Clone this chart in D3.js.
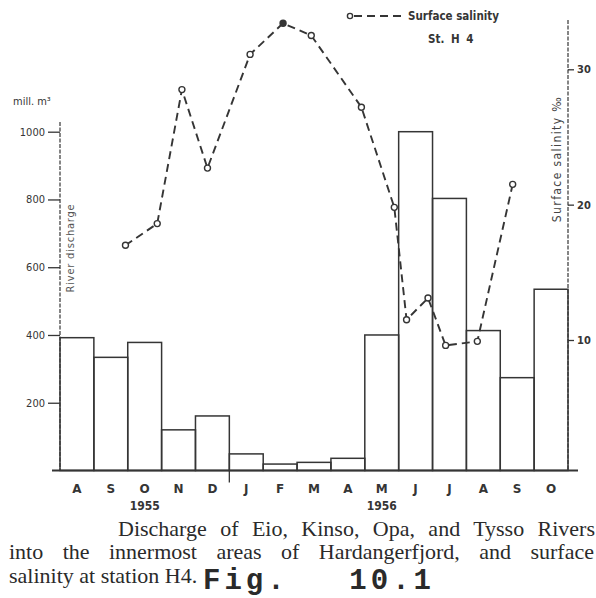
<!DOCTYPE html>
<html>
<head>
<meta charset="utf-8">
<script src="https://cdn.jsdelivr.net/npm/d3@7"></script>
<style>
  html, body { margin: 0; padding: 0; background: #fff; }
  svg { display: block; }
</style>
</head>
<body>
<svg id="chart" width="596" height="598"></svg>
<script>
// Monthly river discharge (mill. m³), Aug 1955 – Oct 1956
const months = ["A", "S", "O", "N", "D", "J", "F", "M", "A", "M", "J", "J", "A", "S", "O"];
const discharge = [392, 334, 378, 120, 161, 49, 19, 24, 36, 400, 1000, 803, 413, 274, 535];

// Surface salinity (‰) at St. H4, by sampling date
const salDates = ["1955-09-29", "1955-10-28", "1955-11-19", "1955-12-12", "1956-01-20",
                  "1956-02-18", "1956-03-14", "1956-04-28", "1956-05-28", "1956-06-08",
                  "1956-06-27", "1956-07-13", "1956-08-11", "1956-09-12"];
const salValues = [17.0, 18.6, 28.5, 22.7, 31.1, 33.4, 32.5, 27.2, 19.8, 11.5, 13.1, 9.6, 9.9, 21.5];
const filledSample = "1956-02-18";

// Axis ticks and labels
const dischargeTicks = [200, 400, 600, 800, 1000];
const salinityTicks = [10, 20, 30];
const years = [{label: "1955", month: 2}, {label: "1956", month: 9}];

const ink = "#353535";
const sans = "DejaVu Sans Condensed, DejaVu Sans, sans-serif";
const svg = d3.select("#chart");

// x in months since 1 Aug 1955
const x = d3.scaleLinear().domain([0, months.length]).range([60, 568]);
const yL = d3.scaleLinear().domain([0, 1000]).range([470.5, 131.7]);
const yR = d3.scaleLinear().domain([10, 30]).range([340, 69.3]);

function monthIndex(s) {
  const [yy, mm, dd] = s.split("-").map(Number);
  const days = new Date(yy, mm, 0).getDate();
  return (yy - 1955) * 12 + (mm - 8) + (dd - 1) / days;
}

// Spread a line's words so it fills the given width
function justify(sel, width) {
  const node = sel.node();
  const natural = node.getComputedTextLength();
  const gaps = (sel.text().match(/ /g) || []).length;
  if (gaps > 0) sel.style("word-spacing", ((width - natural) / gaps) + "px");
}

// Bars
svg.append("g").selectAll("rect").data(discharge).join("rect")
  .attr("x", (d, i) => x(i))
  .attr("y", d => yL(d))
  .attr("width", x(1) - x(0))
  .attr("height", d => yL(0) - yL(d))
  .attr("fill", "none")
  .attr("stroke", ink)
  .attr("stroke-width", 1.5);

// Baseline
svg.append("line")
  .attr("x1", 52).attr("x2", 578)
  .attr("y1", yL(0)).attr("y2", yL(0))
  .attr("stroke", ink).attr("stroke-width", 1.8);

// Year divider tick
svg.append("line")
  .attr("x1", x(5)).attr("x2", x(5))
  .attr("y1", yL(0)).attr("y2", yL(0) + 12)
  .attr("stroke", ink).attr("stroke-width", 1.3);

// Left axis
const gL = svg.append("g").attr("transform", `translate(${x(0)},0)`)
  .call(d3.axisLeft(yL).tickValues(dischargeTicks).tickFormat(d3.format("d"))
    .tickSize(12).tickPadding(3));
gL.select(".domain").remove();
gL.selectAll(".tick line").attr("stroke", ink).attr("stroke-width", 1.3);
gL.selectAll(".tick text")
  .attr("fill", ink)
  .style("font-family", sans)
  .style("font-size", "11px");
svg.append("line")
  .attr("x1", x(0)).attr("x2", x(0))
  .attr("y1", 122).attr("y2", yL(0))
  .attr("stroke", ink).attr("stroke-width", 1.2)
  .attr("stroke-dasharray", "4,1.5");

svg.append("text").attr("x", 13).attr("y", 105)
  .attr("fill", ink)
  .style("font-family", sans)
  .style("font-size", "11px")
  .text("mill. m³");

svg.append("text")
  .attr("transform", `translate(74,248) rotate(-90)`)
  .attr("text-anchor", "middle")
  .attr("fill", "#555")
  .style("font-family", sans)
  .style("font-size", "11px")
  .style("letter-spacing", "0.8px")
  .text("River  discharge");

// Right axis
const gR = svg.append("g").attr("transform", `translate(${x(months.length)},0)`)
  .call(d3.axisRight(yR).tickValues(salinityTicks).tickSize(6).tickPadding(3));
gR.select(".domain").remove();
gR.selectAll(".tick line").attr("stroke", ink).attr("stroke-width", 1.3);
gR.selectAll(".tick text")
  .attr("fill", ink)
  .style("font-family", sans)
  .style("font-size", "11px")
  .style("font-weight", "bold");
svg.append("line")
  .attr("x1", x(months.length)).attr("x2", x(months.length))
  .attr("y1", 20).attr("y2", yL(0))
  .attr("stroke", ink).attr("stroke-width", 1.2)
  .attr("stroke-dasharray", "4,1.5");

svg.append("text")
  .attr("transform", `translate(561,159) rotate(-90)`)
  .attr("text-anchor", "middle")
  .attr("fill", "#444")
  .style("font-family", sans)
  .style("font-size", "12px")
  .style("letter-spacing", "1.4px")
  .text("Surface  salinity  ‰");

// Month labels and years
svg.append("g").selectAll("text").data(months).join("text")
  .attr("x", (d, i) => x(i + 0.5))
  .attr("y", yL(0) + 22)
  .attr("text-anchor", "middle")
  .attr("fill", ink)
  .style("font-family", "DejaVu Sans, sans-serif")
  .style("font-size", "12px")
  .style("font-weight", "bold")
  .text(d => d);

svg.append("g").selectAll("text").data(years).join("text")
  .attr("x", d => x(d.month + 0.5))
  .attr("y", yL(0) + 39)
  .attr("text-anchor", "middle")
  .attr("fill", ink)
  .style("font-family", sans)
  .style("font-size", "12px")
  .style("font-weight", "bold")
  .text(d => d.label);

// Salinity line
const sal = salDates.map((d, i) => ({date: d, m: monthIndex(d), v: salValues[i]}));
svg.append("path")
  .datum(sal)
  .attr("d", d3.line().x(d => x(d.m)).y(d => yR(d.v)))
  .attr("fill", "none")
  .attr("stroke", ink)
  .attr("stroke-width", 1.9)
  .attr("stroke-dasharray", "8,5");
svg.append("g").selectAll("circle").data(sal).join("circle")
  .attr("cx", d => x(d.m))
  .attr("cy", d => yR(d.v))
  .attr("r", 3)
  .attr("fill", d => d.date === filledSample ? ink : "#fff")
  .attr("stroke", ink)
  .attr("stroke-width", 1.4);

// Legend
svg.append("line")
  .attr("x1", 354).attr("x2", 403).attr("y1", 16).attr("y2", 16)
  .attr("stroke", ink).attr("stroke-width", 1.9).attr("stroke-dasharray", "8,5");
svg.append("circle").attr("cx", 350).attr("cy", 16).attr("r", 2.6)
  .attr("fill", "#fff").attr("stroke", ink).attr("stroke-width", 1.4);
svg.append("text").attr("x", 408).attr("y", 20)
  .attr("fill", ink)
  .style("font-family", sans)
  .style("font-size", "11.5px").style("font-weight", "bold")
  .text("Surface  salinity");
svg.append("text").attr("x", 428).attr("y", 43)
  .attr("fill", ink)
  .style("font-family", sans)
  .style("font-size", "11.5px").style("font-weight", "bold")
  .style("word-spacing", "3px")
  .text("St. H 4");

// Caption
const serif = "Liberation Serif, Times New Roman, serif";
const cap1 = svg.append("text").attr("x", 118).attr("y", 536)
  .attr("fill", "#2a2a2a")
  .style("font-family", serif).style("font-size", "22px")
  .text("Discharge of Eio, Kinso, Opa, and Tysso Rivers");
justify(cap1, 477);
const cap2 = svg.append("text").attr("x", 9).attr("y", 559)
  .attr("fill", "#2a2a2a")
  .style("font-family", serif).style("font-size", "22px")
  .text("into the innermost areas of Hardangerfjord, and surface");
justify(cap2, 585);
svg.append("text").attr("x", 9).attr("y", 583)
  .attr("fill", "#2a2a2a")
  .style("font-family", serif).style("font-size", "22px")
  .text("salinity at station H4.");
const fig = svg.append("text").attr("x", 203).attr("y", 589)
  .attr("fill", "#2a2a2a")
  .style("font-family", "Liberation Mono, Courier New, monospace")
  .style("font-size", "29px").style("font-weight", "bold")
  .style("letter-spacing", "4px")
  .text("Fig. 10.1");
justify(fig, 232);
</script>
</body>
</html>
